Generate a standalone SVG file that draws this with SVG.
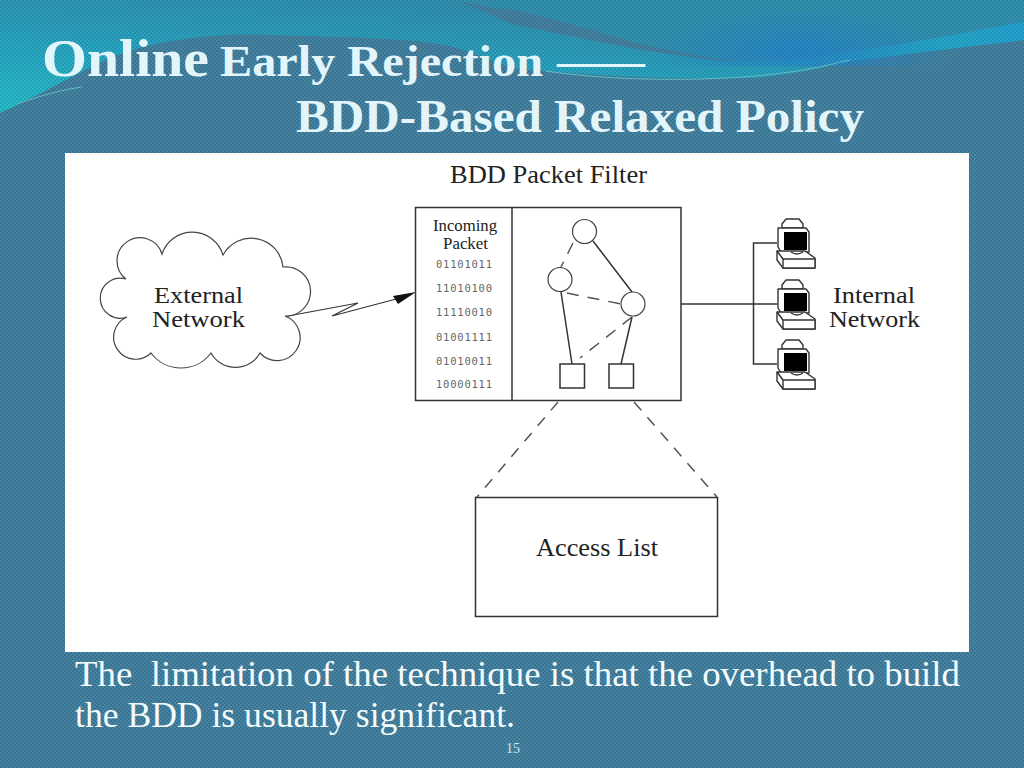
<svg xmlns="http://www.w3.org/2000/svg" width="1024" height="768" viewBox="0 0 1024 768">
<style>
.t{font-family:"Liberation Serif",serif;font-weight:bold;fill:#e2f5fb}
.b{font-family:"Liberation Serif",serif;fill:#f4fbfd;font-size:35px}
.d{font-family:"Liberation Serif",serif;fill:#222}
.m{font-family:"DejaVu Sans Mono","Liberation Mono",monospace;fill:#666;font-size:10.5px}
.l{fill:none;stroke:#333;stroke-width:1.5}
.da{fill:none;stroke:#555;stroke-width:1.5;stroke-dasharray:12 9}
.zoomdash{stroke-dasharray:11 9.300}
.s{fill:#fff;stroke:#333;stroke-width:1.5}
.c{fill:#fff;stroke:#444;stroke-width:1.2}
.p{fill:#fff;stroke:#333;stroke-width:1.4;stroke-linejoin:round}
</style>
<defs>
<pattern id="dither" width="4" height="4" patternUnits="userSpaceOnUse">
<rect width="2" height="2" fill="#fff" fill-opacity=".07"/>
<rect x="2" y="2" width="2" height="2" fill="#fff" fill-opacity=".07"/>
<rect x="2" width="2" height="2" fill="#000" fill-opacity=".07"/>
<rect y="2" width="2" height="2" fill="#000" fill-opacity=".07"/>
</pattern>
<linearGradient id="top" x1="0" y1="1" x2="0.55" y2="0">
<stop offset="0" stop-color="#1fb9c6"/><stop offset=".5" stop-color="#1f9fbc"/><stop offset="1" stop-color="#2a86a8"/>
</linearGradient>
<linearGradient id="band" x1="512" y1="0" x2="1024" y2="0" gradientUnits="userSpaceOnUse">
<stop offset="0" stop-color="#1f9cb8"/><stop offset=".6" stop-color="#1ea8c0"/><stop offset="1" stop-color="#1c9ccb"/>
</linearGradient>
<radialGradient id="glow" cx="800" cy="52" r="150" gradientUnits="userSpaceOnUse" gradientTransform="translate(0 36) scale(1 .3)">
<stop offset="0" stop-color="#1e80c4"/><stop offset="1" stop-color="#1e80c4" stop-opacity="0"/>
</radialGradient>
<g id="pc">
<path class="p" d="M5 6L9 1H22L26 6V10H5Z"/>
<path class="p" d="M1 10H29L32 14V34H4L1 29Z"/>
<rect x="7" y="14" width="23" height="18" fill="#000"/>
<path class="p" d="M0 33H28L38 40V50H6L0 42Z"/>
<rect class="p" x="6" y="41" width="32" height="9"/>
<path class="l" d="M0 33L6 41M14 34Q20 38 26 34"/>
</g>
</defs>
<g id="background">
<rect width="1024" height="768" fill="#3b7c9b"/>
<path d="M0 0H1024V40C960 48 900 54 845 63C810 70 775 78 745 78C680 80 590 76 512 68C490 60 470 50 440 44C400 38 340 37 270 35C220 33 160 38 110 58C75 74 40 95 0 113Z" fill="url(#top)"/>
<path d="M455 0L512 23C560 32 640 50 745 64C810 68 870 58 1024 40V20L880 40L745 63L512 23Z" fill="url(#band)"/>
<path d="M512 23C560 32 650 52 745 63C800 62 900 45 1024 22V0H455C475 8 495 16 512 23Z" fill="#2a8cab"/>
<rect x="640" y="10" width="330" height="56" fill="url(#glow)"/>
<path d="M455 0C475 5 495 9 512 9C550 18 600 32 640 44C680 52 720 60 745 63C660 56 590 40 512 24C495 16 475 8 455 0Z" fill="#3b7c9b"/>
<path d="M17 104C40 96 60 90 82 87M545 71C620 82 720 82 790 72C820 68 830 64 850 60" fill="none" stroke="#5fc0c8" stroke-width="1"/>
<rect width="1024" height="768" fill="url(#dither)"/>
</g>
<g id="title">
<text class="t" x="42" y="76" font-size="53" textLength="167" lengthAdjust="spacingAndGlyphs">Online</text>
<text class="t" x="220" y="76" font-size="45" textLength="323" lengthAdjust="spacingAndGlyphs">Early Rejection</text>
<text class="t" x="557" y="76" font-size="45" textLength="88" lengthAdjust="spacingAndGlyphs">——</text>
<text class="t" x="296" y="132" font-size="46" textLength="568" lengthAdjust="spacingAndGlyphs">BDD-Based Relaxed Policy</text>
</g>
<rect id="panel" x="65" y="153" width="904" height="499" fill="#fff"/>
<g id="connectors">
<path class="l" d="M681 304H754M777 243H753.500V364H777M754 304H777"/>
<path class="da zoomdash" d="M558 402L477 497M634 402L717 497"/>
<path d="M288 316L358 303L332 316L400 298" fill="none" stroke="#333" stroke-width="1.1"/>
<path d="M416 292L393 296L398 304Z" fill="#111"/>
</g>
<g id="external-network">
<path class="c" d="M126 279A23 23 0 1 1 162 254A32 32 0 0 1 223 255A32 32 0 0 1 283 267A24.600 24.600 0 1 1 285 316A23 23 0 1 1 260 353A28 28 0 0 1 211 353A37.500 37.500 0 0 1 151 353A22 22 0 1 1 127 317A20 20 0 1 1 126 279Z"/>
<text class="d" x="154" y="303" font-size="24" textLength="89" lengthAdjust="spacingAndGlyphs">External</text>
<text class="d" x="152" y="327" font-size="24" textLength="93" lengthAdjust="spacingAndGlyphs">Network</text>
</g>
<g id="bdd-filter">
<text class="d" x="450" y="183" font-size="25" textLength="197" lengthAdjust="spacingAndGlyphs">BDD Packet Filter</text>
<rect class="s" x="415.500" y="207.500" width="265.500" height="193"/>
<path class="l" d="M512 208V400"/>
<text class="d" x="433" y="231" font-size="17" textLength="64" lengthAdjust="spacingAndGlyphs">Incoming</text>
<text class="d" x="443" y="249" font-size="17" textLength="45" lengthAdjust="spacingAndGlyphs">Packet</text>
<text class="m" x="436" y="268" textLength="56">01101011</text>
<text class="m" x="436" y="292" textLength="56">11010100</text>
<text class="m" x="436" y="316" textLength="56">11110010</text>
<text class="m" x="436" y="341" textLength="56">01001111</text>
<text class="m" x="436" y="365" textLength="56">01010011</text>
<text class="m" x="436" y="388" textLength="56">10000111</text>
<path class="l" d="M593 241L632 292M561 292L572 364M632 317L621 364"/>
<path class="da" d="M573 243L561 267M567 293L621 304M632 317L580 358"/>
<circle class="c" cx="584.500" cy="231.500" r="12"/>
<circle class="c" cx="560" cy="279.500" r="12"/>
<circle class="c" cx="633" cy="304" r="12"/>
<rect class="s" x="560" y="364" width="24.500" height="24"/>
<rect class="s" x="609" y="364" width="24.500" height="24"/>
</g>
<g id="internal-network">
<use href="#pc" x="777" y="218"/>
<use href="#pc" x="777" y="279"/>
<use href="#pc" x="777" y="339"/>
<text class="d" x="833" y="303" font-size="24" textLength="82" lengthAdjust="spacingAndGlyphs">Internal</text>
<text class="d" x="829" y="327" font-size="24" textLength="91" lengthAdjust="spacingAndGlyphs">Network</text>
</g>
<g id="access-list">
<rect class="s" x="475.500" y="497.500" width="242" height="119"/>
<text class="d" x="536" y="556" font-size="25" textLength="122" lengthAdjust="spacingAndGlyphs">Access List</text>
</g>
<g id="caption">
<text class="b" x="75" y="686" xml:space="preserve" textLength="885" lengthAdjust="spacingAndGlyphs">The  limitation of the technique is that the overhead to build</text>
<text class="b" x="75" y="727" textLength="440" lengthAdjust="spacingAndGlyphs">the BDD is usually significant.</text>
<text x="506" y="753" font-family="Liberation Serif,serif" font-size="14" fill="#cfe6ee">15</text>
</g>
</svg>
